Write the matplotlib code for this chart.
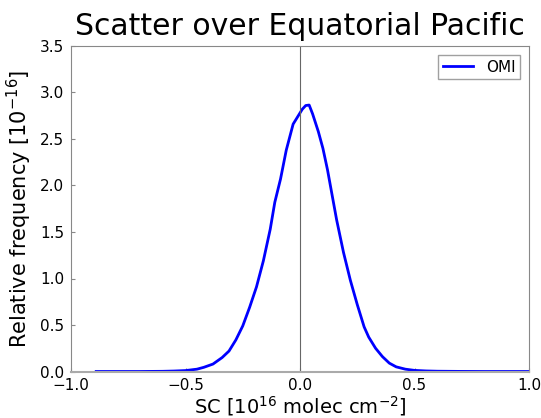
import numpy as np
import matplotlib
matplotlib.use('Agg')
import matplotlib.pyplot as plt

# Distribuicao do SC sobre o Pacifico Equatorial
sc = [-0.89, -0.8, -0.7, -0.6, -0.55, -0.5, -0.45, -0.42, -0.38, -0.34,
      -0.31, -0.28, -0.25, -0.22, -0.19, -0.16, -0.13, -0.11, -0.085, -0.06,
      -0.03, -0.01, 0.01, 0.025, 0.04, 0.055, 0.08, 0.1, 0.12, 0.14,
      0.16, 0.19, 0.22, 0.25, 0.28, 0.3, 0.33, 0.36, 0.39, 0.42,
      0.46, 0.5, 0.55, 0.6, 0.7, 0.8, 0.9, 1.0]
freq = [0.0, 0.0, 0.0, 0.002, 0.005, 0.01, 0.025, 0.045, 0.08, 0.15,
        0.22, 0.34, 0.49, 0.69, 0.91, 1.19, 1.53, 1.82, 2.07, 2.38,
        2.66, 2.74, 2.82, 2.86, 2.865, 2.77, 2.58, 2.40, 2.17, 1.90,
        1.63, 1.28, 0.98, 0.72, 0.48, 0.37, 0.25, 0.16, 0.09, 0.05,
        0.025, 0.012, 0.006, 0.003, 0.001, 0.0, 0.0, 0.0]

fig = plt.figure(figsize=(5.41, 4.18), dpi=100)
ax = fig.add_axes([71 / 541, 1 - 371.5 / 418, 458 / 541, 325.5 / 418])

ax.plot(sc, freq, 'b-', lw=2, label='OMI')
ax.axvline(0, color='#666666', lw=0.8)

ax.set_xlim(-1, 1)
ax.set_ylim(0, 3.5)
ax.set_xticks([-1.0, -0.5, 0.0, 0.5, 1.0])
ax.set_yticks(np.arange(0, 3.6, 0.5))
ax.tick_params(direction='in', length=3, color='#888888', labelsize=11, pad=5)
for s in ax.spines.values():
    s.set_color('#888888')
ax.spines['bottom'].set_color('#aaaaaa')
ax.spines['bottom'].set_linewidth(1.5)

ax.set_title('Scatter over Equatorial Pacific', fontsize=21.5, pad=8)
ax.set_xlabel(r'SC [10$^{16}$ molec cm$^{-2}$]', fontsize=14, labelpad=0.5)
ax.set_ylabel(r'Relative frequency [10$^{-16}$]', fontsize=15)
leg = ax.legend(loc='upper right', fontsize=11, fancybox=False,
                handlelength=2.0, borderaxespad=0.6, borderpad=0.3)
leg.get_frame().set_edgecolor('#888888')

fig.savefig('out.png', dpi=100)
